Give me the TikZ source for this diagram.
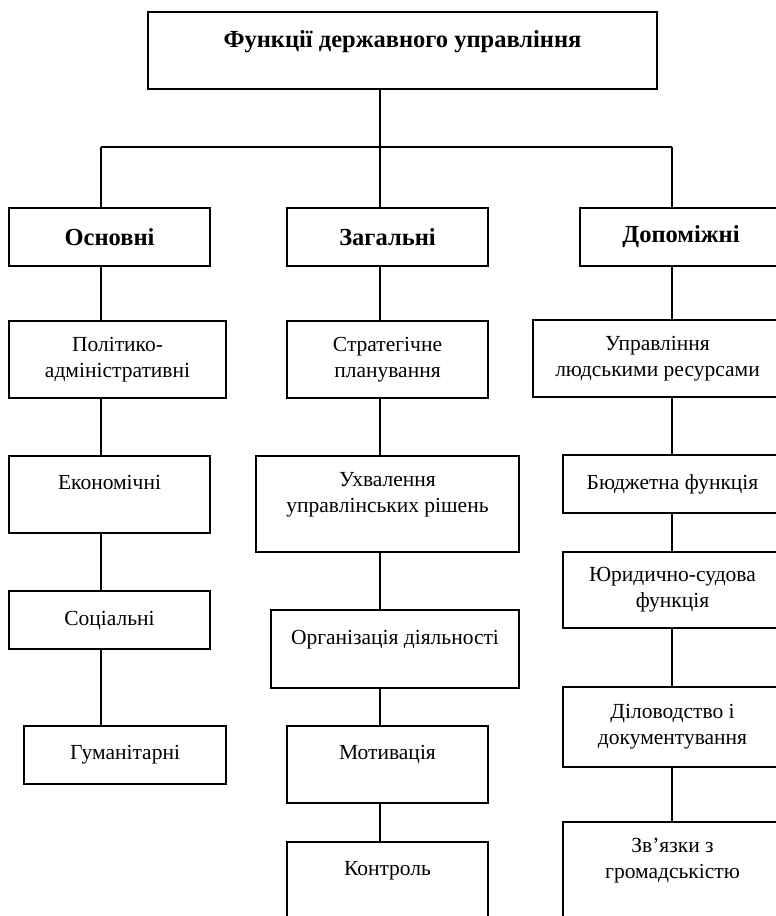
\documentclass[tikz,border=0pt]{standalone}
\usepackage{fontspec}
\setmainfont{Liberation Serif}
\usetikzlibrary{positioning}

\begin{document}
\begin{tikzpicture}[
  x=1pt, y=-1pt,
  every node/.style={font=\fontsize{21.5}{26}\selectfont},
  box/.style={rectangle, draw, line width=1.6pt, align=center, inner sep=0pt, outer sep=0pt, minimum width=201pt, minimum height=77pt},
  headbox/.style={box, minimum height=58pt, font=\fontsize{24.5}{28}\selectfont\bfseries},
  link/.style={line width=1.6pt},
]
\useasboundingbox (0,0) rectangle (776,916);
\fill[white] (0,0) rectangle (776,916);
\clip (0,0) rectangle (776,916);

%% Root
\node[box, minimum width=509pt, font=\fontsize{24.5}{28}\selectfont\bfseries, anchor=north] (title) at (402.5,12) {Функції державного управління\\[-14pt]\strut};

%% Groups
\node[headbox, below=119pt of title, xshift=-15pt] (zag) {Загальні};
\node[headbox, left=77pt of zag] (osn) {Основні};
\node[headbox, right=92pt of zag, minimum width=202pt] (dop) {Допоміжні};

%% Column lines
\coordinate (c1) at (101,0);
\coordinate (c2) at (380,0);
\coordinate (c3) at (672,0);
\coordinate (bus) at (0,147);

\draw[link] (title.south -| c2) -- (zag.north -| c2);
\draw[link] (bus -| c1) -- (bus -| c3);
\draw[link] (bus -| c1) -- (osn.north -| c1);
\draw[link] (bus -| c3) -- (dop.north -| c3);

%% Основні
\node[box, below=55pt of osn, xshift=8pt, minimum width=217pt] (pol) {Політико-\\адміністративні};
\node[box, below=58pt of pol, xshift=-8pt] (eko) {Економічні\\[-10pt]\strut};
\node[box, below=58pt of eko, minimum height=58pt] (soc) {Соціальні};
\node[box, below=77pt of soc, xshift=15.5pt, minimum width=202pt, minimum height=58pt] (gum) {Гуманітарні};

\draw[link] (osn.south -| c1) -- (pol.north -| c1);
\draw[link] (pol.south -| c1) -- (eko.north -| c1);
\draw[link] (eko.south -| c1) -- (soc.north -| c1);
\draw[link] (soc.south -| c1) -- (gum.north -| c1);

%% Загальні
\node[box, below=55pt of zag] (str) {Стратегічне\\планування};
\node[box, below=58pt of str, minimum width=263pt, minimum height=96pt] (uhv) {Ухвалення\\управлінських рішень\\[-10pt]\strut};
\node[box, below=58pt of uhv, xshift=7.5pt, minimum width=248pt, minimum height=78pt] (org) {Організація діяльності\\[-10pt]\strut};
\node[box, below=38pt of org, xshift=-7.5pt] (mot) {Мотивація\\[-10pt]\strut};
\node[box, below=39pt of mot] (kon) {Контроль\\[-10pt]\strut};

\draw[link] (zag.south -| c2) -- (str.north -| c2);
\draw[link] (str.south -| c2) -- (uhv.north -| c2);
\draw[link] (uhv.south -| c2) -- (org.north -| c2);
\draw[link] (org.south -| c2) -- (mot.north -| c2);
\draw[link] (mot.south -| c2) -- (kon.north -| c2);

%% Допоміжні
\node[box, below=54pt of dop, xshift=-23.5pt, minimum width=249pt] (lud) {Управління\\людськими ресурсами};
\node[box, below=58pt of lud, xshift=15pt, minimum width=219pt, minimum height=58pt] (bud) {Бюджетна функція};
\node[box, below=39pt of bud, minimum width=219pt, minimum height=76pt] (yur) {Юридично-судова\\функція};
\node[box, below=59pt of yur, minimum width=219pt, minimum height=80pt] (dil) {Діловодство і\\документування};
\node[box, below=55pt of dil, minimum width=219pt, minimum height=96pt] (zvy) {Зв’язки з\\громадськістю\\[-10pt]\strut};

\draw[link] (dop.south -| c3) -- (lud.north -| c3);
\draw[link] (lud.south -| c3) -- (bud.north -| c3);
\draw[link] (bud.south -| c3) -- (yur.north -| c3);
\draw[link] (yur.south -| c3) -- (dil.north -| c3);
\draw[link] (dil.south -| c3) -- (zvy.north -| c3);

\end{tikzpicture}
\end{document}
